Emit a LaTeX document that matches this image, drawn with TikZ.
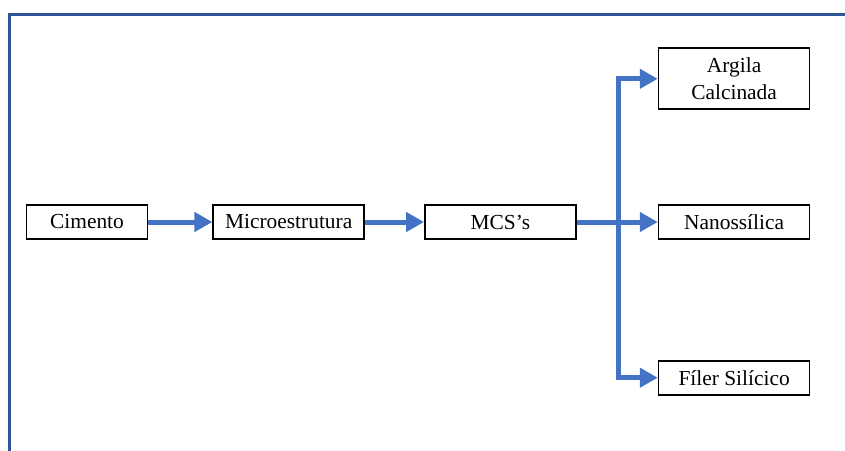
\documentclass[tikz,border=0pt]{standalone}
\usepackage{fontspec}
\setmainfont{Liberation Serif}
\usetikzlibrary{positioning,arrows.meta,calc}
\definecolor{arrowblue}{RGB}{68,114,196}
\definecolor{frameblue}{RGB}{47,85,151}

\begin{document}
\begin{tikzpicture}[
        node distance=30pt,
        box/.style={
            rectangle,
            draw,
            line width=0.85pt,
            minimum width=75.5pt,
            minimum height=17pt,
            inner sep=1pt,
            align=center,
            font=\fontsize{10.7}{13.5}\selectfont
        },
        arrow/.style={
            -{Triangle[length=9pt,width=9.5pt]},
            line width=2.5pt,
            draw=arrowblue,
            line join=miter
        }
    ]

    % Frame
    \useasboundingbox (0,0) rectangle (422.5pt,-225pt);
    \draw[frameblue, line width=1.5pt] (4.75pt,-226pt) |- (423pt,-7.25pt);

    % Main row
    \node[box, minimum width=60.5pt] (cimento) at (43.5pt,-111pt) {Cimento};
    \node[box, right=32pt of cimento] (micro) {Microestrutura};
    \node[box, right=29.5pt of micro] (mcs) {MCS’s};

    % Additions
    \node[box, right=40.5pt of mcs] (nano) {Nanossílica};
    \node[box, above=47pt of nano, minimum height=30.5pt] (argila) {Argila\\Calcinada};
    \node[box, below=60pt of nano] (filer) {Fíler Silícico};

    % Connections
    \draw[arrow] (cimento) -- (micro);
    \draw[arrow] (micro) -- (mcs);
    \draw[arrow] (mcs) -- (nano);

    % Branch going up and down
    \coordinate (split) at ($(mcs.east)!0.52!(nano.west)$);
    \draw[arrow] (split) |- (argila);
    \draw[arrow] (split) |- (filer);

\end{tikzpicture}
\end{document}
